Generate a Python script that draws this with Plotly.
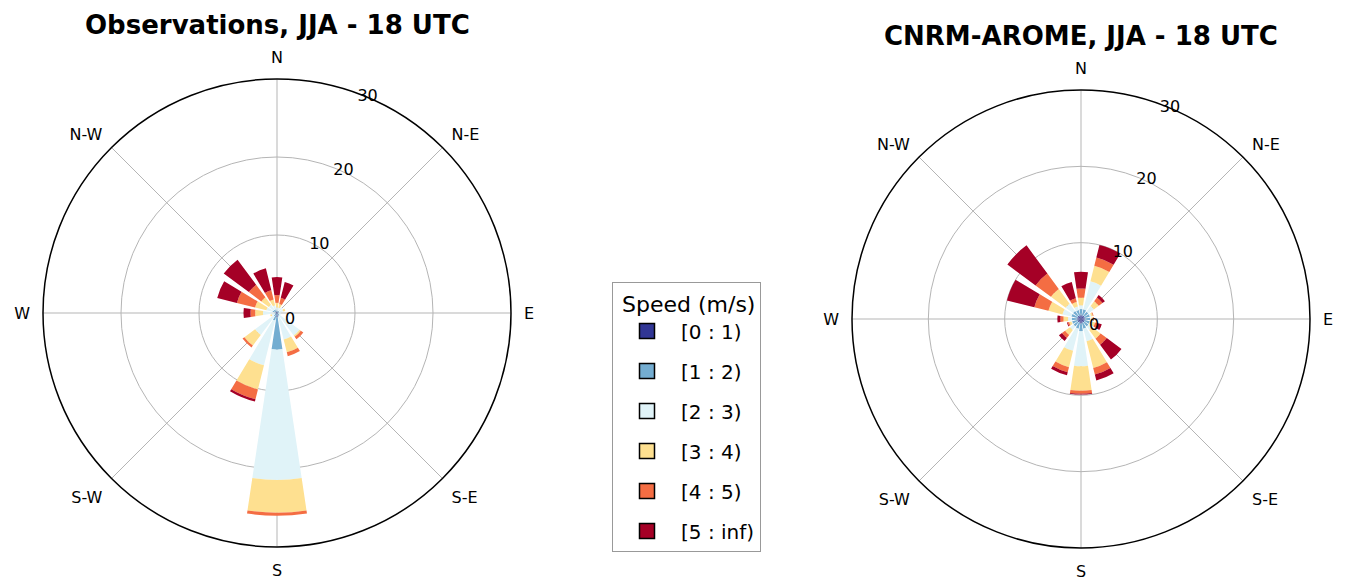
import plotly.graph_objects as go

# 16 Richtungssektoren (Grad, im Uhrzeigersinn ab Nord)
richtungen = [0, 22.5, 45, 67.5, 90, 112.5, 135, 157.5, 180, 202.5, 225, 247.5, 270, 292.5, 315, 337.5]
kompass = ["N", "N-E", "E", "S-E", "S", "S-W", "W", "N-W"]
kompass_winkel = [0, 45, 90, 135, 180, 225, 270, 315]
klassen = ["[0 : 1)", "[1 : 2)", "[2 : 3)", "[3 : 4)", "[4 : 5)", "[5 : inf)"]
farben = ["#313695", "#74add1", "#e0f3f8", "#fee090", "#f46d43", "#a50026"]
ringe = [0, 10, 20, 30]

# Häufigkeit (%) je Geschwindigkeitsklasse, Reihenfolge wie richtungen
obs_0_1 = [0.1, 0.1, 0.1, 0.1, 0.1, 0.1, 0.1, 0.1, 0.5, 0.2, 0.1, 0.1, 0.1, 0.2, 0.2, 0.2]
obs_1_2 = [0.2, 0.2, 0.2, 0.2, 0.1, 0.1, 0.3, 0.4, 4.2, 0.8, 0.4, 0.2, 0.2, 0.4, 0.3, 0.3]
obs_2_3 = [0.4, 0.4, 0.6, 0.5, 0.3, 0.3, 3.2, 3.0, 16.7, 5.9, 3.0, 0.4, 1.5, 0.8, 0.8, 0.5]
obs_3_4 = [0.6, 0.5, 0.0, 0.3, 0.0, 0.0, 0.2, 1.7, 4.2, 3.2, 1.7, 0.2, 1.0, 1.5, 1.2, 0.8]
obs_4_5 = [1.0, 0.8, 0.0, 0.0, 0.0, 0.0, 0.4, 0.5, 0.4, 1.3, 0.3, 0.0, 0.6, 2.4, 2.0, 1.2]
obs_5_inf = [2.3, 2.1, 0.0, 0.0, 0.0, 0.0, 0.0, 0.0, 0.0, 0.3, 0.0, 0.0, 0.9, 2.6, 4.0, 2.9]

mod_0_1 = [0.5, 0.5, 0.5, 0.5, 0.5, 0.5, 0.5, 0.5, 0.6, 0.5, 0.5, 0.5, 0.5, 0.5, 0.5, 0.5]
mod_1_2 = [0.8, 0.8, 0.7, 0.7, 0.7, 0.7, 0.7, 0.8, 1.0, 0.8, 0.7, 0.7, 0.7, 0.8, 0.8, 0.7]
mod_2_3 = [0.5, 3.8, 0.9, 0.2, 0.2, 0.3, 0.6, 1.7, 4.6, 3.0, 0.6, 0.1, 0.5, 1.2, 1.2, 0.5]
mod_3_4 = [1.0, 2.1, 0.8, 0.2, 0.2, 0.4, 1.4, 3.6, 3.2, 2.2, 0.8, 0.3, 0.6, 1.9, 2.4, 0.6]
mod_4_5 = [1.2, 1.1, 0.6, 0.1, 0.1, 0.3, 1.0, 0.9, 0.4, 0.7, 0.5, 0.2, 0.4, 1.9, 2.5, 0.5]
mod_5_inf = [2.2, 1.7, 0.4, 0.0, 0.0, 0.6, 2.4, 0.8, 0.1, 0.4, 0.5, 0.1, 0.4, 3.7, 4.6, 2.2]

obs = [obs_0_1, obs_1_2, obs_2_3, obs_3_4, obs_4_5, obs_5_inf]
mod = [mod_0_1, mod_1_2, mod_2_3, mod_3_4, mod_4_5, mod_5_inf]

# die Seite hat 8px Rand (body margin) -> Figur etwas kleiner, Positionen umrechnen
B, H = 1343, 577


def px(x):
    return (x - 8) / B


def py(y):
    return 1 - (y - 8) / H


fig = go.Figure()

# gestapelte Balken für beide Windrosen
for polar, daten in [("polar", obs), ("polar2", mod)]:
    for i in range(len(klassen)):
        fig.add_trace(go.Barpolar(r=daten[i], theta=richtungen, width=17, subplot=polar,
                                  marker=dict(color=farben[i], line=dict(width=0)),
                                  name=klassen[i], showlegend=False))

# nur für die Legende (Kästchen mit schwarzem Rand wie im Original)
for i in range(len(klassen)):
    fig.add_trace(go.Scatterpolar(r=[None], theta=[None], subplot="polar", mode="markers",
                                  name=klassen[i], legendgroup=klassen[i], showlegend=True,
                                  marker=dict(symbol="square", size=15, color=farben[i],
                                              line=dict(color="black", width=1.5))))


def achsen(domain_x, domain_y):
    return dict(
        domain=dict(x=domain_x, y=domain_y),
        bgcolor="white",
        barmode="stack",
        angularaxis=dict(direction="clockwise", rotation=90, tickvals=kompass_winkel, ticktext=kompass,
                         tickfont=dict(family="DejaVu Sans", size=16, color="black"),
                         showline=True, linecolor="black", linewidth=1.5,
                         gridcolor="#b5b5b5", gridwidth=1,
                         ticks="outside", ticklen=9, tickcolor="rgba(0,0,0,0)"),
        radialaxis=dict(range=[0, 30], tickvals=ringe, angle=72, tickangle=72,
                        tickfont=dict(family="DejaVu Sans", size=16, color="black"),
                        showline=False, gridcolor="#b5b5b5", gridwidth=1, ticks=""),
    )


fig.update_layout(
    width=B, height=H,
    margin=dict(l=0, r=0, t=0, b=0),
    paper_bgcolor="white",
    font=dict(family="DejaVu Sans", color="black"),
    polar=achsen([px(43), px(511)], [py(547), py(79)]),
    polar2=achsen([px(852), px(1310)], [py(548), py(90)]),
    showlegend=True,
    legend=dict(x=px(612), y=py(282), xanchor="left", yanchor="top",
                title=dict(text=" Speed (m/s)", font=dict(size=22)),
                font=dict(size=20), bgcolor="white", bordercolor="#999999", borderwidth=1,
                tracegroupgap=11, itemsizing="trace", itemwidth=58),
    annotations=[
        dict(text="<b>Observations, JJA - 18 UTC</b>", x=px(277), y=py(25), xref="paper", yref="paper",
             xanchor="center", yanchor="middle", showarrow=False, font=dict(size=26)),
        dict(text="<b>CNRM-AROME, JJA - 18 UTC</b>", x=px(1081), y=py(36), xref="paper", yref="paper",
             xanchor="center", yanchor="middle", showarrow=False, font=dict(size=26)),
    ],
)

fig.write_html("out.html")
